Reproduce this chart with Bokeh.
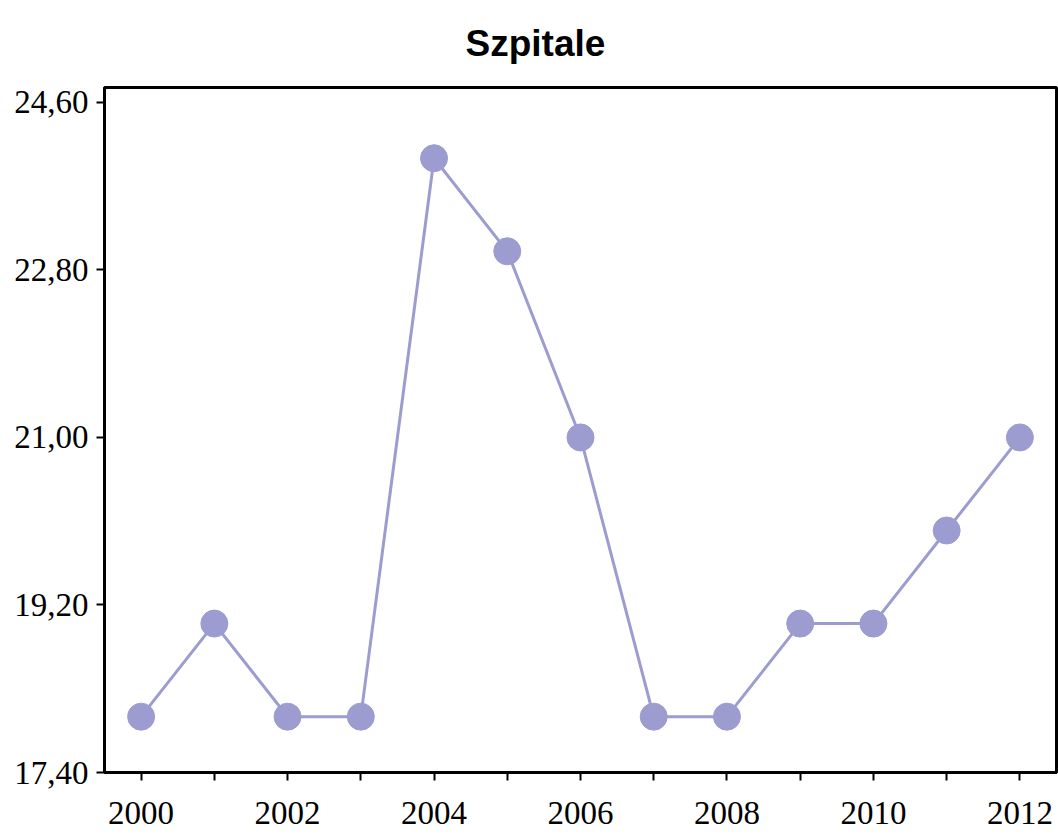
from bokeh.plotting import figure
from bokeh.models import FixedTicker, Range1d, Title
from bokeh.embed import file_html
from bokeh.resources import INLINE

years = [2000, 2001, 2002, 2003, 2004, 2005, 2006, 2007, 2008, 2009, 2010, 2011, 2012]
values = [18.0, 19.0, 18.0, 18.0, 24.0, 23.0, 21.0, 18.0, 18.0, 19.0, 19.0, 20.0, 21.0]
y_ticks = [17.4, 19.2, 21.0, 22.8, 24.6]
y_tick_labels = ["17,40", "19,20", "21,00", "22,80", "24,60"]
x_ticks = years
x_tick_labels = [str(y) if y % 2 == 0 else "" for y in years]
title_text = "Szpitale"

color = "#9c9cd0"

p = figure(width=1058, height=834, output_backend="svg", toolbar_location=None,
           x_range=Range1d(1999.5, 2012.5), y_range=Range1d(17.4, 24.76),
           min_border_left=104, min_border_right=2, min_border_top=86, min_border_bottom=62)

p.title = Title(text=title_text, align="left", offset=361, vertical_align="top",
                text_font="Liberation Sans", text_font_size="37px",
                text_font_style="bold", text_color="black", standoff=44)

p.line(years, values, line_color=color, line_width=3)
p.scatter(years, values, size=27, fill_color=color, line_color=color)

p.xgrid.visible = False
p.ygrid.visible = False
p.outline_line_color = "black"
p.outline_line_width = 3
p.outline_line_alpha = 1.0

for ax in (p.xaxis[0], p.yaxis[0]):
    ax.axis_line_color = "black"
    ax.axis_line_width = 3
    ax.major_tick_line_color = "black"
    ax.major_tick_line_width = 2
    ax.major_tick_out = 8
    ax.major_tick_in = 0
    ax.minor_tick_line_color = None
    ax.major_label_text_font = "Liberation Serif"
    ax.major_label_text_font_size = "33px"
    ax.major_label_text_color = "black"

p.xaxis[0].ticker = FixedTicker(ticks=x_ticks)
p.xaxis[0].major_label_overrides = {y: l for y, l in zip(x_ticks, x_tick_labels)}
p.xaxis[0].major_label_standoff = 21
p.yaxis[0].ticker = FixedTicker(ticks=y_ticks)
p.yaxis[0].major_label_overrides = {t: l for t, l in zip(y_ticks, y_tick_labels)}
p.yaxis[0].major_label_standoff = 8

open("out.html", "w").write(file_html(p, INLINE))
